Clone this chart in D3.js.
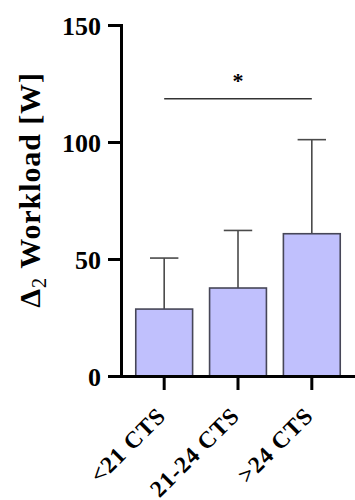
<!DOCTYPE html>
<html>
<head>
<meta charset="utf-8">
<script src="https://cdn.jsdelivr.net/npm/d3@7"></script>
<style>
  body { margin: 0; background: #fff; }
  text { font-family: "Liberation Serif", "Times New Roman", serif; font-weight: bold; }
</style>
</head>
<body>
<svg width="355" height="500"></svg>
<script>
const groups = ['<21 CTS', '21-24 CTS', '>24 CTS'];
const means = [28.6, 37.6, 60.8];
const sds = [21.8, 24.6, 40.2];
const yTicks = [0, 50, 100, 150];
// significance bracket between first and last group
const sig = { from: 0, to: 2, y: 118.5, label: '*' };

const svg = d3.select('svg');
const x0 = 121, x1 = 355, yTop = 25, yBottom = 376;

const x = d3.scaleBand()
  .domain(groups)
  .range([x0, x1])
  .paddingInner(0.23)
  .paddingOuter(0.2);

const y = d3.scaleLinear()
  .domain([0, 150])
  .range([yBottom, yTop]);

// error bars (drawn first so bars cover the lower part)
const err = svg.append('g').attr('stroke', '#4a4a4a').attr('stroke-width', 1.6);
groups.forEach((g, i) => {
  const cx = x(g) + x.bandwidth() / 2;
  err.append('line')
    .attr('x1', cx).attr('x2', cx)
    .attr('y1', y(means[i])).attr('y2', y(means[i] + sds[i]));
  err.append('line')
    .attr('x1', cx - x.bandwidth() / 4).attr('x2', cx + x.bandwidth() / 4)
    .attr('y1', y(means[i] + sds[i])).attr('y2', y(means[i] + sds[i]));
});

svg.append('g').selectAll('rect')
  .data(groups)
  .enter().append('rect')
  .attr('x', d => x(d))
  .attr('y', (d, i) => y(means[i]))
  .attr('width', x.bandwidth())
  .attr('height', (d, i) => y(0) - y(means[i]))
  .attr('fill', '#c0c0fd')
  .attr('stroke', '#464657')
  .attr('stroke-width', 1.6);

// y axis
const yAxis = svg.append('g')
  .attr('transform', `translate(${x0},0)`)
  .call(d3.axisLeft(y).tickValues(yTicks).tickSize(13).tickPadding(7));
yAxis.select('.domain').attr('stroke', '#000').attr('stroke-width', 3);
yAxis.selectAll('.tick line').attr('stroke', '#000').attr('stroke-width', 3);
yAxis.selectAll('.tick text')
  .attr('fill', '#000')
  .style('font-size', '26px')
  .attr('dy', '0.36em');

// x axis
const xAxis = svg.append('g')
  .attr('transform', `translate(0,${yBottom})`)
  .call(d3.axisBottom(x).tickSize(14).tickSizeOuter(0));
xAxis.select('.domain').attr('stroke', '#000').attr('stroke-width', 3);
xAxis.selectAll('.tick line').attr('stroke', '#000').attr('stroke-width', 3);
xAxis.selectAll('.tick text')
  .attr('fill', '#000')
  .style('font-size', '23.5px')
  .style('letter-spacing', '1px')
  .attr('text-anchor', 'end')
  .attr('y', 0)
  .attr('dy', '0')
  .attr('transform', 'translate(3,41) rotate(-45)');

// y axis title
const title = svg.append('text')
  .attr('transform', 'translate(40,190) rotate(-90)')
  .attr('text-anchor', 'middle')
  .style('font-size', '30px')
  .style('letter-spacing', '0.9px')
  .attr('fill', '#000');
title.append('tspan').text('Δ');
title.append('tspan').text('2').attr('baseline-shift', '-28%').style('font-size', '20px').style('font-weight', 'normal');
title.append('tspan').text(' Workload [W]');

// significance bracket
const sx1 = x(groups[sig.from]) + x.bandwidth() / 2;
const sx2 = x(groups[sig.to]) + x.bandwidth() / 2;
svg.append('line')
  .attr('x1', sx1).attr('x2', sx2)
  .attr('y1', y(sig.y)).attr('y2', y(sig.y))
  .attr('stroke', '#333').attr('stroke-width', 1.6);
svg.append('text')
  .attr('x', (sx1 + sx2) / 2)
  .attr('y', y(sig.y) - 11)
  .attr('text-anchor', 'middle')
  .style('font-size', '22px')
  .attr('fill', '#000')
  .text(sig.label);
</script>
</body>
</html>
